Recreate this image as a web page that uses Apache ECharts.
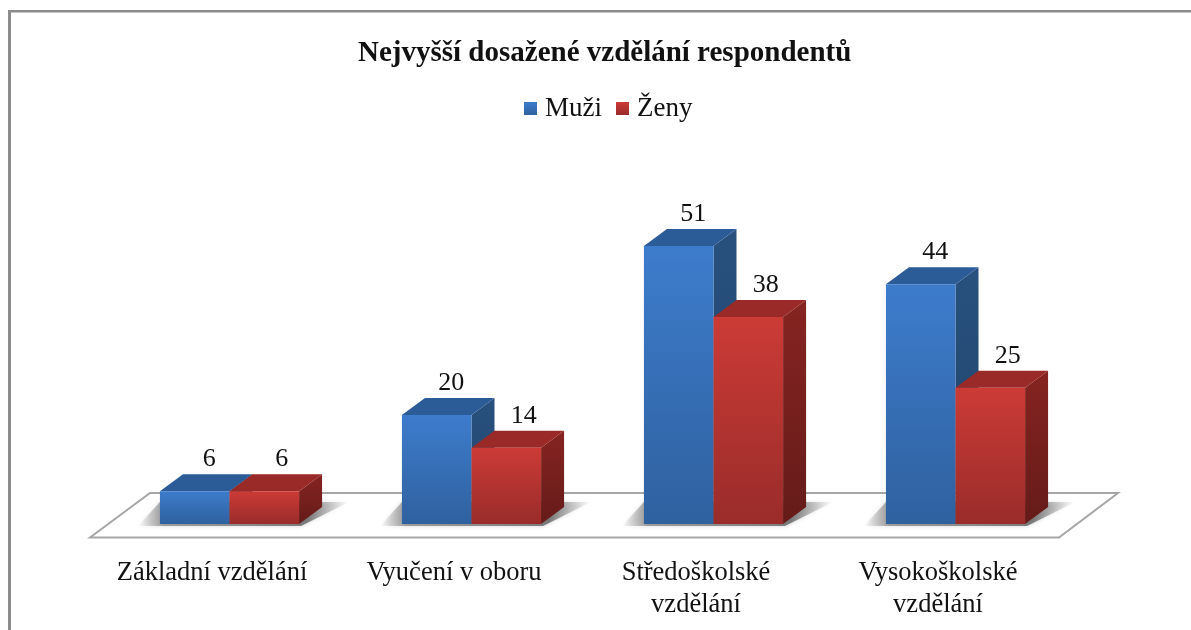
<!DOCTYPE html>
<html>
<head>
<meta charset="utf-8">
<title>Nejvyšší dosažené vzdělání respondentů</title>
<script src="https://cdn.jsdelivr.net/npm/echarts@6/dist/echarts.min.js"></script>
<style>
    html, body { margin: 0; background: #fff; }
    #main { width: 1191px; height: 630px; }
</style>
</head>
<body>
<div id="main"></div>
<script>
var categories = ['Základní vzdělání', 'Vyučení v oboru', 'Středoškolské\nvzdělání', 'Vysokoškolské\nvzdělání'];
var muzi = [6, 20, 51, 44];
var zeny = [6, 14, 38, 25];

var chart = echarts.init(document.getElementById('main'));

// fake 3d: how far the back of a bar sits from its front
var depthX = 23;
var depthY = 17;
var serif = '"Liberation Serif", serif';

function vgrad(top, bottom) {
    return new echarts.graphic.LinearGradient(0, 0, 0, 1, [
        { offset: 0, color: top },
        { offset: 1, color: bottom }
    ]);
}

function barItem(offset, colors, labelShift) {
    return function (params, api) {
        var top = api.coord([api.value(0), api.value(1)]);
        var base = api.coord([api.value(0), 0]);
        var w = api.size([1, 0])[0] * 0.2875;
        var x = top[0] + offset * w;
        var dx = depthX, dy = depthY;
        return {
            type: 'group',
            children: [
                {
                    type: 'polygon',
                    shape: { points: [[x + w, top[1]], [x + w + dx, top[1] - dy], [x + w + dx, base[1] - dy], [x + w, base[1]]] },
                    style: { fill: vgrad(colors.sideTop, colors.sideBottom) }
                },
                {
                    type: 'polygon',
                    shape: { points: [[x, top[1]], [x + dx, top[1] - dy], [x + w + dx, top[1] - dy], [x + w, top[1]]] },
                    style: { fill: colors.cap }
                },
                {
                    type: 'rect',
                    shape: { x: x, y: top[1], width: w, height: base[1] - top[1] },
                    style: { fill: vgrad(colors.top, colors.bottom) }
                },
                {
                    type: 'text',
                    style: {
                        x: x + w / 2 + dx / 2 + labelShift,
                        y: top[1] - dy - 2,
                        text: String(api.value(1)),
                        fill: '#111',
                        font: '26px ' + serif,
                        align: 'center',
                        verticalAlign: 'bottom'
                    }
                }
            ]
        };
    };
}

// floor plate, drawn once from the grid rect
function floorItem(params, api) {
    var cs = params.coordSys;
    var y0 = cs.y + cs.height;
    return {
        type: 'polygon',
        shape: { points: [
            [cs.x - 18.5, y0 + 13.5],
            [cs.x + 41.5, y0 - 31],
            [cs.x + cs.width + 41.5, y0 - 31],
            [cs.x + cs.width - 17.5, y0 + 13.5]
        ] },
        style: { fill: '#fff', stroke: '#a6a6a6', lineWidth: 2 }
    };
}

function shadowItem(params, api) {
    var c = api.coord([api.value(0), 0]);
    var w = api.size([1, 0])[0] * 0.2875;
    return {
        type: 'polygon',
        shape: { points: [
            [c[0] - w - 22, c[1] + 2],
            [c[0] + w + 2, c[1] + 2],
            [c[0] + w + 50, c[1] - 22],
            [c[0] - w, c[1] - 22]
        ] },
        style: {
            fill: new echarts.graphic.LinearGradient(0, 0, 1, 0, [
                { offset: 0, color: 'rgba(120,120,120,0)' },
                { offset: 0.12, color: 'rgba(110,110,110,0.6)' },
                { offset: 0.8, color: 'rgba(80,80,80,0.7)' },
                { offset: 1, color: 'rgba(120,120,120,0)' }
            ]),
            shadowBlur: 4,
            shadowColor: 'rgba(120,120,120,0.5)'
        }
    };
}

chart.setOption({
    animation: false,
    title: {
        text: 'Nejvyšší dosažené vzdělání respondentů',
        left: 353,
        top: 34,
        textStyle: { fontFamily: serif, fontSize: 29, fontWeight: 'bold', color: '#111' }
    },
    legend: {
        data: ['Muži', 'Ženy'],
        top: 90,
        left: 519,
        icon: 'rect',
        itemWidth: 13,
        itemHeight: 13,
        itemGap: 14,
        textStyle: { fontFamily: serif, fontSize: 27, color: '#111', padding: [0, 0, 0, 3] }
    },
    grid: { left: 108.5, width: 968, top: 197, height: 327 },
    xAxis: {
        type: 'category',
        data: categories,
        axisLine: { show: false },
        axisTick: { show: false },
        axisLabel: {
            interval: 0,
            margin: 33,
            padding: [0, 35, 0, 0],
            lineHeight: 32,
            fontFamily: serif,
            fontSize: 26.5,
            color: '#111'
        }
    },
    yAxis: { type: 'value', min: 0, max: 60, show: false },
    graphic: [
        { type: 'rect', shape: { x: 8, y: 10, width: 3, height: 620 }, style: { fill: '#8c8c8c' } },
        { type: 'rect', shape: { x: 8, y: 10, width: 1183, height: 2.5 }, style: { fill: '#8c8c8c' } }
    ],
    series: [
        {
            type: 'custom',
            name: 'floor',
            silent: true,
            data: [[0, 0]],
            encode: { x: 0, y: 1 },
            renderItem: floorItem,
            z: 1
        },
        {
            type: 'custom',
            name: 'shadow',
            silent: true,
            data: categories.map(function (c, i) { return [i, 0]; }),
            encode: { x: 0, y: 1 },
            renderItem: shadowItem,
            z: 2
        },
        {
            type: 'custom',
            name: 'Muži',
            data: muzi.map(function (v, i) { return [i, v]; }),
            encode: { x: 0, y: 1 },
            itemStyle: { color: vgrad('#3d7ccc', '#2f619f') },
            renderItem: barItem(-1, { top: '#3d7ccc', bottom: '#2f619f', cap: '#2c5c97', sideTop: '#28517f', sideBottom: '#204468' }, 3),
            z: 3
        },
        {
            type: 'custom',
            name: 'Ženy',
            data: zeny.map(function (v, i) { return [i, v]; }),
            encode: { x: 0, y: 1 },
            itemStyle: { color: vgrad('#cc3b36', '#992c2a') },
            renderItem: barItem(0, { top: '#cc3b36', bottom: '#992c2a', cap: '#992a27', sideTop: '#862421', sideBottom: '#651b19' }, 6),
            z: 4
        }
    ]
});

window.addEventListener('resize', function () {
    chart.resize();
});
</script>
</body>
</html>
